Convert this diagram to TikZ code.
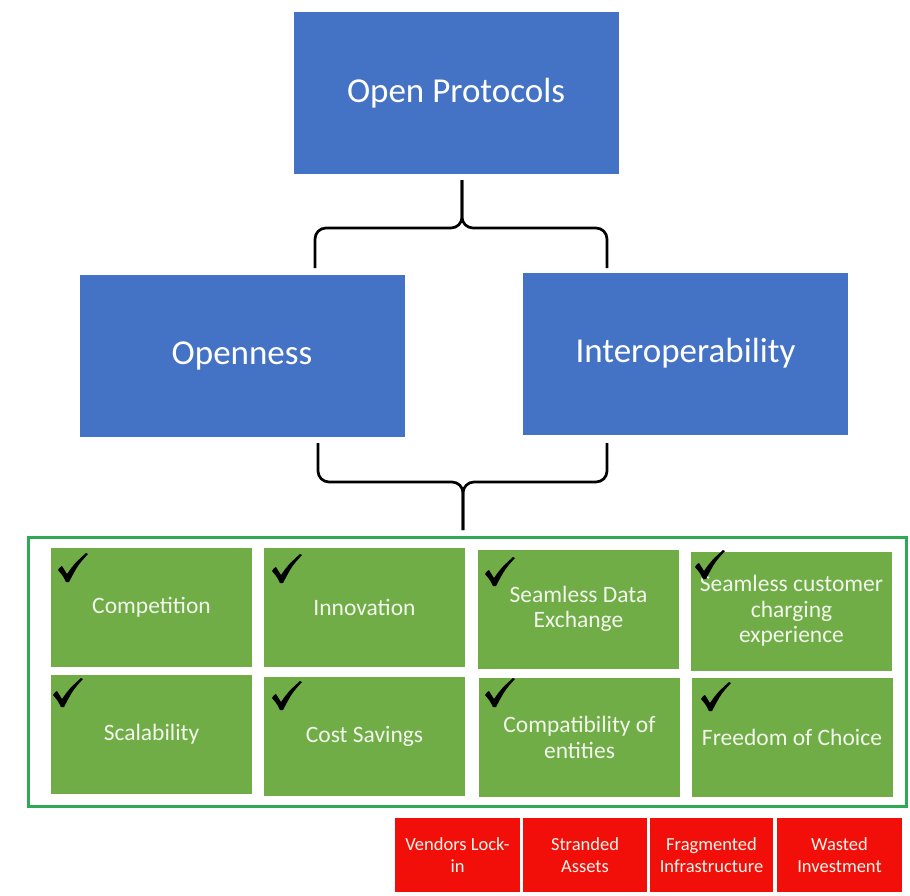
\documentclass[tikz,border=0pt]{standalone}
\usepackage{fontspec}
\setmainfont{Carlito}
\definecolor{boxblue}{HTML}{4472C4}
\definecolor{boxgreen}{HTML}{70AD47}
\definecolor{framegreen}{HTML}{2EAA55}
\definecolor{boxred}{HTML}{F20F0A}
\definecolor{paletext}{HTML}{F2F6EC}
\newcommand\checkmk[1]{\fill[black,shift={#1}] (0,17) .. controls (2,14) .. (4,13) -- (9,21) .. controls (16,11) .. (28,0) -- (30,1) .. controls (20,12) .. (11,29) -- (8,29) .. controls (5,23) .. cycle;}
\begin{document}
\begin{tikzpicture}[x=1pt,y=-1pt,
  bluebox/.style={fill=boxblue,text=white,inner sep=0pt,minimum width=325pt,minimum height=162pt,font=\fontsize{35}{42}\selectfont},
  greenbox/.style={fill=boxgreen,text=paletext,inner sep=0pt,minimum width=201pt,minimum height=119pt,align=center,font=\fontsize{23.5}{25.5}\selectfont},
  redbox/.style={fill=boxred,text=paletext,inner sep=0pt,minimum width=124pt,minimum height=74pt,align=center,font=\fontsize{18.5}{22}\selectfont},
  brace/.style={draw=black,line width=2.7pt,rounded corners=11pt}]
\useasboundingbox (0,0) rectangle (910,895);
\fill[white] (0,0) rectangle (910,895);

\node[bluebox] (op) at (456,93) {Open Protocols};
\node[bluebox] (open) at (242,356) {Openness};
\node[bluebox] (inter) at (685.5,353.5) {Interoperability};

% top brace
\coordinate (t0) at (462,180);
\coordinate (tj) at (462,228);
\coordinate (tl) at (315,268);
\coordinate (tr) at (607,268);
\draw[brace] (t0) -- (tj) -| (tl);
\draw[brace] (t0) -- (tj) -| (tr);

% bottom brace
\coordinate (bl) at (318,443);
\coordinate (br) at (607,443);
\coordinate (bj) at (463,482);
\coordinate (b0) at (463,530);
\draw[brace] (bl) |- (bj) -- (b0);
\draw[brace] (br) |- (bj) -- (b0);

% green frame
\node[draw=framegreen,line width=3pt,minimum width=878pt,minimum height=269pt,inner sep=0pt] (frame) at (467,671.5) {};

\node[greenbox] (g1) at (151.5,607.5) {Competition};
\node[greenbox] (g2) at (364.5,607.5) {Innovation};
\node[greenbox] (g3) at (578.5,609) {Seamless Data\\Exchange};
\node[greenbox] (g4) at (791.5,611) {Seamless customer\\charging\\experience};
\node[greenbox] (g5) at (151.5,734) {Scalability};
\node[greenbox] (g6) at (364.5,736) {Cost Savings};
\node[greenbox] (g7) at (579.5,737.5) {Compatibility of\\entities};
\node[greenbox] (g8) at (792,737) {Freedom of Choice};

\checkmk{(58,553)}
\checkmk{(272,554)}
\checkmk{(485,557)}
\checkmk{(695,550)}
\checkmk{(53,678)}
\checkmk{(272,681)}
\checkmk{(485,678)}
\checkmk{(701,682)}

\node[redbox,minimum width=125pt] (r1) at (457.5,855) {Vendors Lock-\\in};
\node[redbox] (r2) at (585,855) {Stranded\\Assets};
\node[redbox,minimum width=123pt] (r3) at (711.5,855) {Fragmented\\Infrastructure};
\node[redbox,minimum width=125pt] (r4) at (839.5,855) {Wasted\\Investment};
\end{tikzpicture}
\end{document}
